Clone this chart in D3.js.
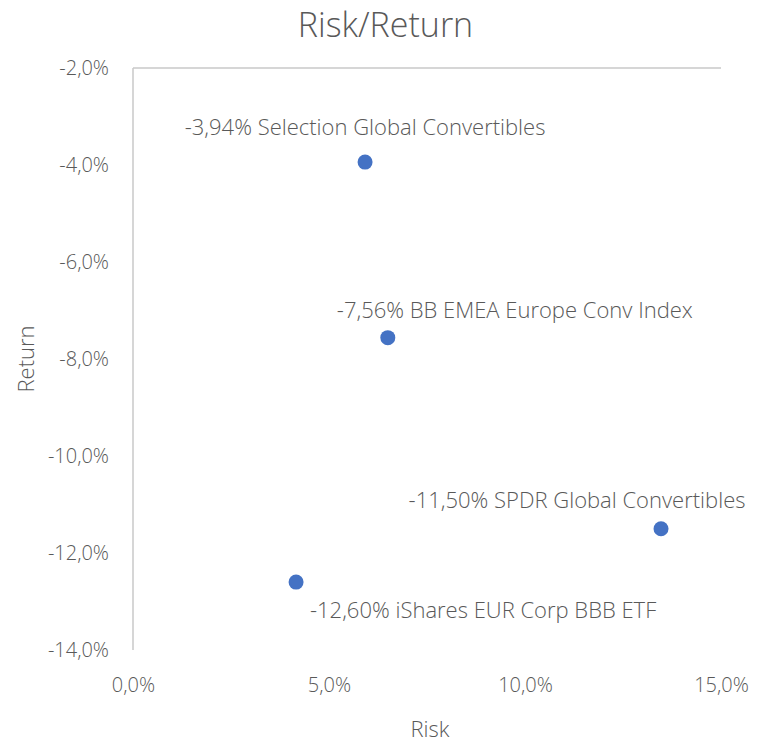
<!DOCTYPE html>
<html>
<head>
<meta charset="utf-8">
<script src="https://cdn.jsdelivr.net/npm/d3@7"></script>
<style>
  body { margin: 0; background: #fff; }
  text { font-family: "Segoe UI Light", "Open Sans", "Lato", sans-serif; font-weight: 300; fill: #595959; }
</style>
</head>
<body>
<div id="chart-area"></div>
<script>
// data
var names = ["Selection Global Convertibles", "BB EMEA Europe Conv Index", "SPDR Global Convertibles", "iShares EUR Corp BBB ETF"];
var risk = [0.0592, 0.065, 0.1347, 0.0416];
var ret = [-0.0394, -0.0756, -0.1150, -0.1260];
var xTicks = [0, 0.05, 0.10, 0.15];
var yTicks = [-0.14, -0.12, -0.10, -0.08, -0.06, -0.04, -0.02];

// label offsets from the point (centre of text, baseline)
var labelDx = [0, 127, -84, 187];
var labelDy = [-27, -20, -21, 36];

var width = 769, height = 743;
var margin = {left: 133, right: 48, top: 68, bottom: 93};

var svg = d3.select("#chart-area")
  .append("svg")
    .attr("width", width)
    .attr("height", height);

var locale = d3.formatLocale({decimal: ",", thousands: ".", grouping: [3], currency: ["", "€"], minus: "-"});
var fmt1 = locale.format(".1%");
var fmt2 = locale.format(".2%");

var x = d3.scaleLinear()
  .domain([0, 0.15])
  .range([margin.left, width - margin.right]);
var y = d3.scaleLinear()
  .domain([-0.14, -0.02])
  .range([height - margin.bottom, margin.top]);

// axis lines (horizontal axis crosses at the top)
svg.append("line")
  .attr("x1", x(0)).attr("x2", x(0.15))
  .attr("y1", y(-0.02)).attr("y2", y(-0.02))
  .attr("stroke", "#c9c9c9").attr("stroke-width", 1.5);
svg.append("line")
  .attr("x1", x(0)).attr("x2", x(0))
  .attr("y1", y(-0.02)).attr("y2", y(-0.14))
  .attr("stroke", "#c9c9c9").attr("stroke-width", 1.5);

// tick labels
var xAxis = svg.append("g")
  .attr("transform", "translate(0," + (height - margin.bottom + 39) + ")")
  .call(d3.axisBottom(x).tickValues(xTicks).tickFormat(fmt1).tickSize(0));
xAxis.select(".domain").remove();
xAxis.selectAll("text").attr("font-size", "20px").attr("dy", 0);
xAxis.attr("font-family", null);

var yAxis = svg.append("g")
  .attr("transform", "translate(" + (margin.left - 24) + ",0)")
  .call(d3.axisLeft(y).tickValues(yTicks).tickFormat(fmt1).tickSize(0));
yAxis.select(".domain").remove();
yAxis.selectAll("text").attr("font-size", "20px").attr("x", 0);
yAxis.attr("font-family", null);

// titles
svg.append("text")
  .attr("x", width / 2 + 1)
  .attr("y", 37)
  .attr("text-anchor", "middle")
  .attr("font-size", "34px")
  .text("Risk/Return");

svg.append("text")
  .attr("x", (x(0) + x(0.15)) / 2 + 3)
  .attr("y", 737)
  .attr("text-anchor", "middle")
  .attr("font-size", "22px")
  .text("Risk");

svg.append("text")
  .attr("transform", "rotate(-90)")
  .attr("x", -(y(-0.02) + y(-0.14)) / 2)
  .attr("y", 34)
  .attr("text-anchor", "middle")
  .attr("font-size", "22px")
  .text("Return");

// points
var idx = d3.range(names.length);
svg.selectAll("circle")
  .data(idx)
  .enter()
  .append("circle")
    .attr("cx", function(i) { return x(risk[i]); })
    .attr("cy", function(i) { return y(ret[i]); })
    .attr("r", 7.5)
    .attr("fill", "#4472c4");

// data labels
svg.selectAll(".lbl")
  .data(idx)
  .enter()
  .append("text")
    .attr("class", "lbl")
    .attr("x", function(i) { return x(risk[i]) + labelDx[i]; })
    .attr("y", function(i) { return y(ret[i]) + labelDy[i]; })
    .attr("text-anchor", "middle")
    .attr("font-size", "22px")
    .text(function(i) { return fmt2(ret[i]) + " " + names[i]; });
</script>
</body>
</html>
